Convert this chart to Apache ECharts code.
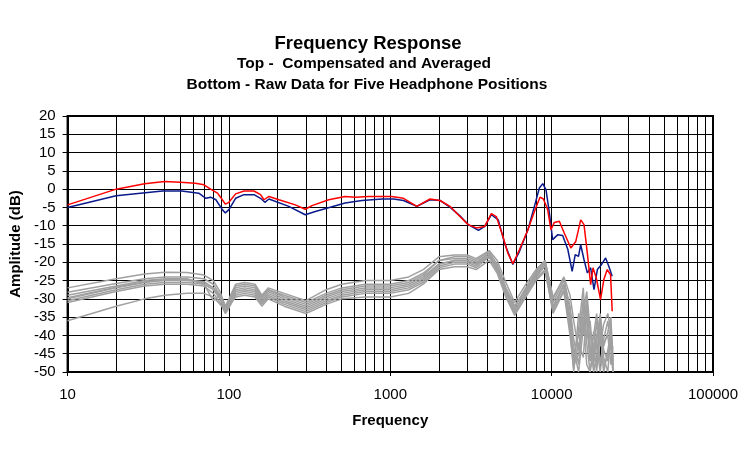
<!DOCTYPE html>
<html><head><meta charset="utf-8">
<script src="https://cdn.jsdelivr.net/npm/echarts@6/dist/echarts.min.js"></script>
<style>html,body{margin:0;padding:0;background:#fff}#c{width:750px;height:450px}</style>
</head><body><div id="c"></div>
<script>
// Compensated & averaged (red)
var redFreq = [10,20,30,40,50,62,70,77,85,91,95,100,110,124,143,157,165,177,204,258,297,327,415,525,605,735,1020,1208,1460,1763,2032,2343,2700,3040,3420,3850,4230,4540,4985,5350,5750,6320,7130,7820,8470,8890,9450,9900,10390,11160,11970,13150,14110,15140,15870,16640,17450,18040,18910,20090,21070,22100,23180,23730];
var redDb = [-4.3,0,1.5,2.1,1.9,1.6,1.2,0,-1.1,-2.9,-4.1,-3.6,-1.3,-0.5,-0.5,-1.5,-2.9,-2,-2.9,-4.3,-5.5,-4.5,-2.9,-2,-2.2,-2,-2,-2.5,-4.7,-2.7,-3.1,-4.7,-7.5,-9.7,-10.6,-10.2,-6.7,-7.5,-12.9,-17.5,-20.4,-16.5,-11.1,-6.1,-2.2,-2.7,-5.6,-11.1,-9.1,-8.8,-12,-16.1,-14.3,-8.4,-9.7,-17.5,-26.1,-21.5,-24.3,-30.2,-24.7,-22,-23.4,-33.4];
// Compensated & averaged (blue)
var blueFreq = [10,20,38.7,51,65,72,77,83,91,95,100,110,124,143,157,167,177,235,297,343,525,667,890,1048,1208,1460,1763,2032,2343,2700,3040,3520,3850,4230,4670,5100,5750,6320,7130,7820,8390,8810,9230,9680,10140,10890,11700,12600,13400,14000,14670,15140,15870,16640,17450,18300,19200,20400,21600,22600,23730];
var blueDb = [-5,-1.8,-0.5,-0.5,-1.1,-2.5,-2.2,-2.9,-5.6,-6.5,-5.6,-2.5,-1.5,-1.5,-2.5,-3.6,-2.7,-4.7,-7,-6.1,-3.8,-3.1,-2.7,-2.7,-3.1,-4.7,-2.9,-3.1,-4.9,-7.3,-9.7,-11.3,-10.2,-7,-8.4,-14.7,-20.6,-17,-11.1,-4.7,0.3,1.5,-0.2,-6.5,-13.8,-12.5,-12.7,-16.5,-22.5,-17.9,-18.4,-15.2,-19.3,-22.9,-21.5,-27.5,-22,-20.6,-18.8,-21.1,-23.8];
// Raw data (gray)
var rawFreq = [10,20,30,40,55,70,80,88,95,100,110,125,145,160,175,220,300,400,500,700,1000,1300,1600,2000,2500,3000,3400,4100,4600,5200,5900,6800,8000,9100,10200,11900,13000,13700,14700,15700,16500,17300,18200,19000,20000,21000,22300,23300,24000];
var raw1 = [-27,-24.5,-23.2,-22.7,-22.8,-23.5,-25,-28,-32,-30,-26,-25.5,-26,-29,-27,-28.5,-30.5,-27.5,-26,-25,-25,-24,-22,-18.5,-18,-18,-19,-16.8,-19.5,-25.5,-31,-26.5,-22,-19.5,-30,-24,-29,-36,-44,-30,-36,-47,-40,-34,-43,-37,-34,-39,-46];
var raw2 = [-28.2,-25.8,-24.5,-24,-24,-24.5,-26,-29,-32.5,-31,-27,-26.5,-27,-29.5,-27.5,-29.5,-31.5,-29,-27.5,-26.5,-26.5,-25.5,-23.5,-19.5,-19,-19,-20,-17.5,-20.5,-27,-32,-28,-23,-20,-32,-26,-35,-47,-38,-27,-42,-50,-44,-36,-48,-41,-36,-44,-50];
var raw3 = [-29.7,-26.8,-25.3,-24.8,-24.8,-25.3,-27,-29.5,-33,-31.5,-27.5,-27,-27.5,-30,-28,-30,-32,-29.5,-28,-27,-27,-26,-24,-20.5,-19.5,-19.5,-20.5,-18.5,-21.5,-28,-33,-29,-24,-21,-33.5,-27.5,-38,-50,-34,-40,-31,-45,-48,-40,-37,-50,-44,-39,-47];
var raw4 = [-30.5,-27.5,-26,-25.5,-25.5,-26,-27.5,-30,-33.5,-32,-28.5,-28,-28.5,-31,-29,-31,-33,-30.5,-29,-28,-28,-27,-25,-21,-20,-20,-21,-18,-22,-28.5,-33.5,-28.5,-23.5,-21,-31,-25,-32,-41,-48,-34,-28,-38,-50,-46,-35,-44,-47,-37,-50];
var raw5 = [-31,-28,-26.5,-26,-26,-26.5,-28.5,-31,-34,-32.5,-29,-28.5,-29,-31.5,-29.5,-31.5,-33.5,-31,-29.5,-28.5,-28.5,-27.5,-25.5,-21.5,-20.5,-20.5,-21.5,-18.5,-22.5,-29,-34,-29.5,-24.5,-22,-34,-28,-40,-49,-42,-46,-33,-47,-39,-43,-50,-42,-40,-48,-43];
var raw6 = [-36,-32,-30,-29,-28.5,-28.5,-29.5,-31.5,-33,-32,-29.5,-29,-29.5,-32,-30,-32,-34,-31.5,-30,-29.5,-29.5,-28.5,-26,-22,-21.2,-21.2,-22,-19.5,-23,-29.5,-34.5,-30,-25,-22.5,-32.5,-26.5,-36,-44,-50,-38,-30,-43,-49,-47,-37,-46,-50,-38,-48];
var raw7 = [-29,-26.5,-25,-24.5,-24.5,-26,-30.5,-29,-32,-30.5,-26.5,-26,-26.5,-29.5,-27.5,-29,-31,-28.5,-27,-26,-26,-25,-23,-19.5,-18.5,-18.5,-19.5,-17,-21,-27.5,-32.5,-27.5,-22.5,-19.5,-29.5,-24.5,-33,-45,-40,-32,-41,-36,-47,-41,-34,-43,-39,-35,-49];
var raw8 = [-30,-27,-25.5,-25,-25,-25.5,-27,-29,-32.5,-31,-28,-27.5,-28,-30.5,-28.5,-30.5,-32.5,-30,-28.5,-27.5,-27.5,-26.5,-24.5,-20.5,-19.5,-19.5,-20.5,-17.5,-21,-27,-32,-28,-23.5,-20.5,-33,-26,-37,-48,-45,-35,-48,-50,-42,-50,-39,-49,-45,-40,-50];
var rawSets = [raw1,raw2,raw3,raw4,raw5,raw6,raw7,raw8];
var yTicks = [20,15,10,5,0,-5,-10,-15,-20,-25,-30,-35,-40,-45,-50];
var xTickLabels = ['10','100','1000','10000','100000'];

function pairs(f, v){ return f.map(function(x,i){ return [x, v[i]]; }); }
var minorX = [];
[10,100,1000,10000].forEach(function(d){ for (var m=2;m<=9;m++) minorX.push({xAxis: d*m}); });

var FONT = 'Arial, "Liberation Sans", sans-serif';
var series = [];
rawSets.forEach(function(arr, i){
  var s = {type:'line', data: pairs(rawFreq, arr), showSymbol:false, symbol:'none',
    lineStyle:{color:'#a0a0a0', width:1.5}, z: 2, silent:true};
  if (i === 0) {
    s.markLine = {silent:true, symbol:'none', label:{show:false},
      lineStyle:{color:'#000', width:1, type:'solid'}, data: minorX, z:1, animation:false};
  }
  series.push(s);
});
series.push({type:'line', data: pairs(blueFreq, blueDb), showSymbol:false, symbol:'none', lineStyle:{color:'#0a1a8a', width:1.5}, z:3});
series.push({type:'line', data: pairs(redFreq, redDb), showSymbol:false, symbol:'none', lineStyle:{color:'#ff0000', width:1.5}, z:4});

var chart = echarts.init(document.getElementById('c'), null, {renderer:'canvas'});
chart.setOption({
  animation:false,
  backgroundColor:'#fff',
  title:[
    {text:'Frequency Response', left:368, top:34, padding:0, textAlign:'center', textStyle:{fontFamily:FONT, fontSize:18.5, fontWeight:'bold', color:'#000'}},
    {text:'Top -  Compensated and Averaged', left:364, top:56, padding:0, textAlign:'center', textStyle:{fontFamily:FONT, fontSize:15.5, fontWeight:'bold', color:'#000'}},
    {text:'Bottom - Raw Data for Five Headphone Positions', left:367, top:77, padding:0, textAlign:'center', textStyle:{fontFamily:FONT, fontSize:15.5, fontWeight:'bold', color:'#000'}}
  ],
  grid:{left:65, right:37, top:116, bottom:78, show:true, borderColor:'#000', borderWidth:2, backgroundColor:'transparent'},
  xAxis:{type:'log', logBase:10, min:10, max:100000,
    name:'Frequency', nameLocation:'middle', nameGap:41,
    nameTextStyle:{fontFamily:FONT, fontSize:15, fontWeight:'bold', color:'#000'},
    axisLine:{show:true, onZero:false, lineStyle:{color:'#000', width:2}},
    axisTick:{show:true, length:4, lineStyle:{color:'#000'}},
    axisLabel:{fontFamily:FONT, fontSize:15, color:'#000', margin:15,
      formatter:function(v){ var s = String(Math.round(v)); return xTickLabels.indexOf(s) >= 0 ? s : ''; }},
    splitLine:{show:true, lineStyle:{color:'#000', width:1}}
  },
  yAxis:{type:'value', min:-50, max:20, interval:5,
    name:'Amplitude (dB)', nameLocation:'middle', nameGap:44, nameRotate:90,
    nameTextStyle:{fontFamily:FONT, fontSize:15, fontWeight:'bold', color:'#000'},
    axisLine:{show:true, onZero:false, lineStyle:{color:'#000', width:2}},
    axisTick:{show:true, length:5, lineStyle:{color:'#000'}},
    axisLabel:{fontFamily:FONT, fontSize:15, color:'#000', margin:12,
      formatter:function(v){ return yTicks.indexOf(v) >= 0 ? String(v) : ''; }},
    splitLine:{show:true, lineStyle:{color:'#000', width:1}}
  },
  series: series
});
</script>
</body></html>
